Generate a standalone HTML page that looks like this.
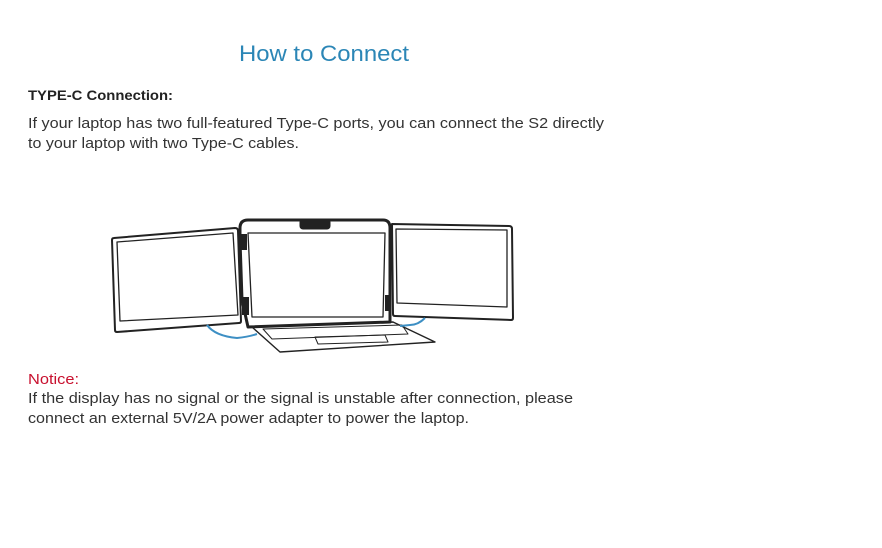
<!DOCTYPE html>
<html><head><meta charset="utf-8"><style>
html,body{margin:0;padding:0;background:#fff;}
svg{display:block;}
text{font-family:"Liberation Sans",sans-serif;}
</style></head><body>
<svg width="882" height="548" viewBox="0 0 882 548" xmlns="http://www.w3.org/2000/svg">
<rect width="882" height="548" fill="#fff"/>
<text x="239" y="61" font-size="22" fill="#2b86b6" textLength="170" lengthAdjust="spacingAndGlyphs">How to Connect</text>
<text x="28" y="100" font-size="14" font-weight="bold" fill="#222" textLength="145" lengthAdjust="spacingAndGlyphs">TYPE-C Connection:</text>
<text x="28" y="128" font-size="15" fill="#333" textLength="576" lengthAdjust="spacingAndGlyphs">If your laptop has two full-featured Type-C ports, you can connect the S2 directly</text>
<text x="28" y="148" font-size="15" fill="#333" textLength="271" lengthAdjust="spacingAndGlyphs">to your laptop with two Type-C cables.</text>
<text x="28" y="384" font-size="15" fill="#c8102e" textLength="51" lengthAdjust="spacingAndGlyphs">Notice:</text>
<text x="28" y="403" font-size="15" fill="#333" textLength="545" lengthAdjust="spacingAndGlyphs">If the display has no signal or the signal is unstable after connection, please</text>
<text x="28" y="423" font-size="15" fill="#333" textLength="441" lengthAdjust="spacingAndGlyphs">connect an external 5V/2A power adapter to power the laptop.</text>

<g fill="none" stroke="#222" stroke-linejoin="round">
 <path d="M112 240 Q112 238 114 238 L235 228 Q238 228 238 231 L241 321 Q241 323 239 323 L117 332 Q115 332 115 330 Z" stroke-width="2"/>
 <path d="M117 242 L233 233 L238 315 L120 321 Z" stroke-width="1.3"/>
 <path d="M392 224 L509 226 Q512 226 512 229 L513 318 Q513 320 511 320 L395 316 Q393 316 393 314 Z" stroke-width="2"/>
 <path d="M396 229 L507 230 L507 307 L397 303 Z" stroke-width="1.3"/>
 <path d="M240 228 Q240 220 248 220 L383 220 Q390 220 390 228 L390 322 L248 327 L242 300 L240 240 Z" stroke-width="3"/>
 <path d="M248 233 L385 233 L383 317 L252 317 Z" stroke-width="1.3"/>
 <rect x="300" y="219" width="30" height="10" rx="3" fill="#222" stroke-width="1"/>
 <rect x="240" y="234" width="7" height="16" fill="#222" stroke="none"/>
 <rect x="242" y="297" width="7" height="18" fill="#222" stroke="none"/>
 <rect x="385" y="295" width="6" height="16" fill="#222" stroke="none"/>
 <path d="M252 327 L393 322 L435 342 L280 352 Z" stroke-width="1.4"/>
 <path d="M263 329 L402 325 L408 334 L272 339 Z" stroke-width="1"/>
 <path d="M315 337 L385 335 L388 342 L318 344 Z" stroke-width="1"/>
</g>
<g fill="none" stroke="#3d8fc4" stroke-width="2">
 <path d="M207 325 Q215 336 237 338 Q248 337 257 334"/>
 <path d="M425 318 Q418 325 410 325 L400 326"/>
</g>
</svg>
</body></html>
